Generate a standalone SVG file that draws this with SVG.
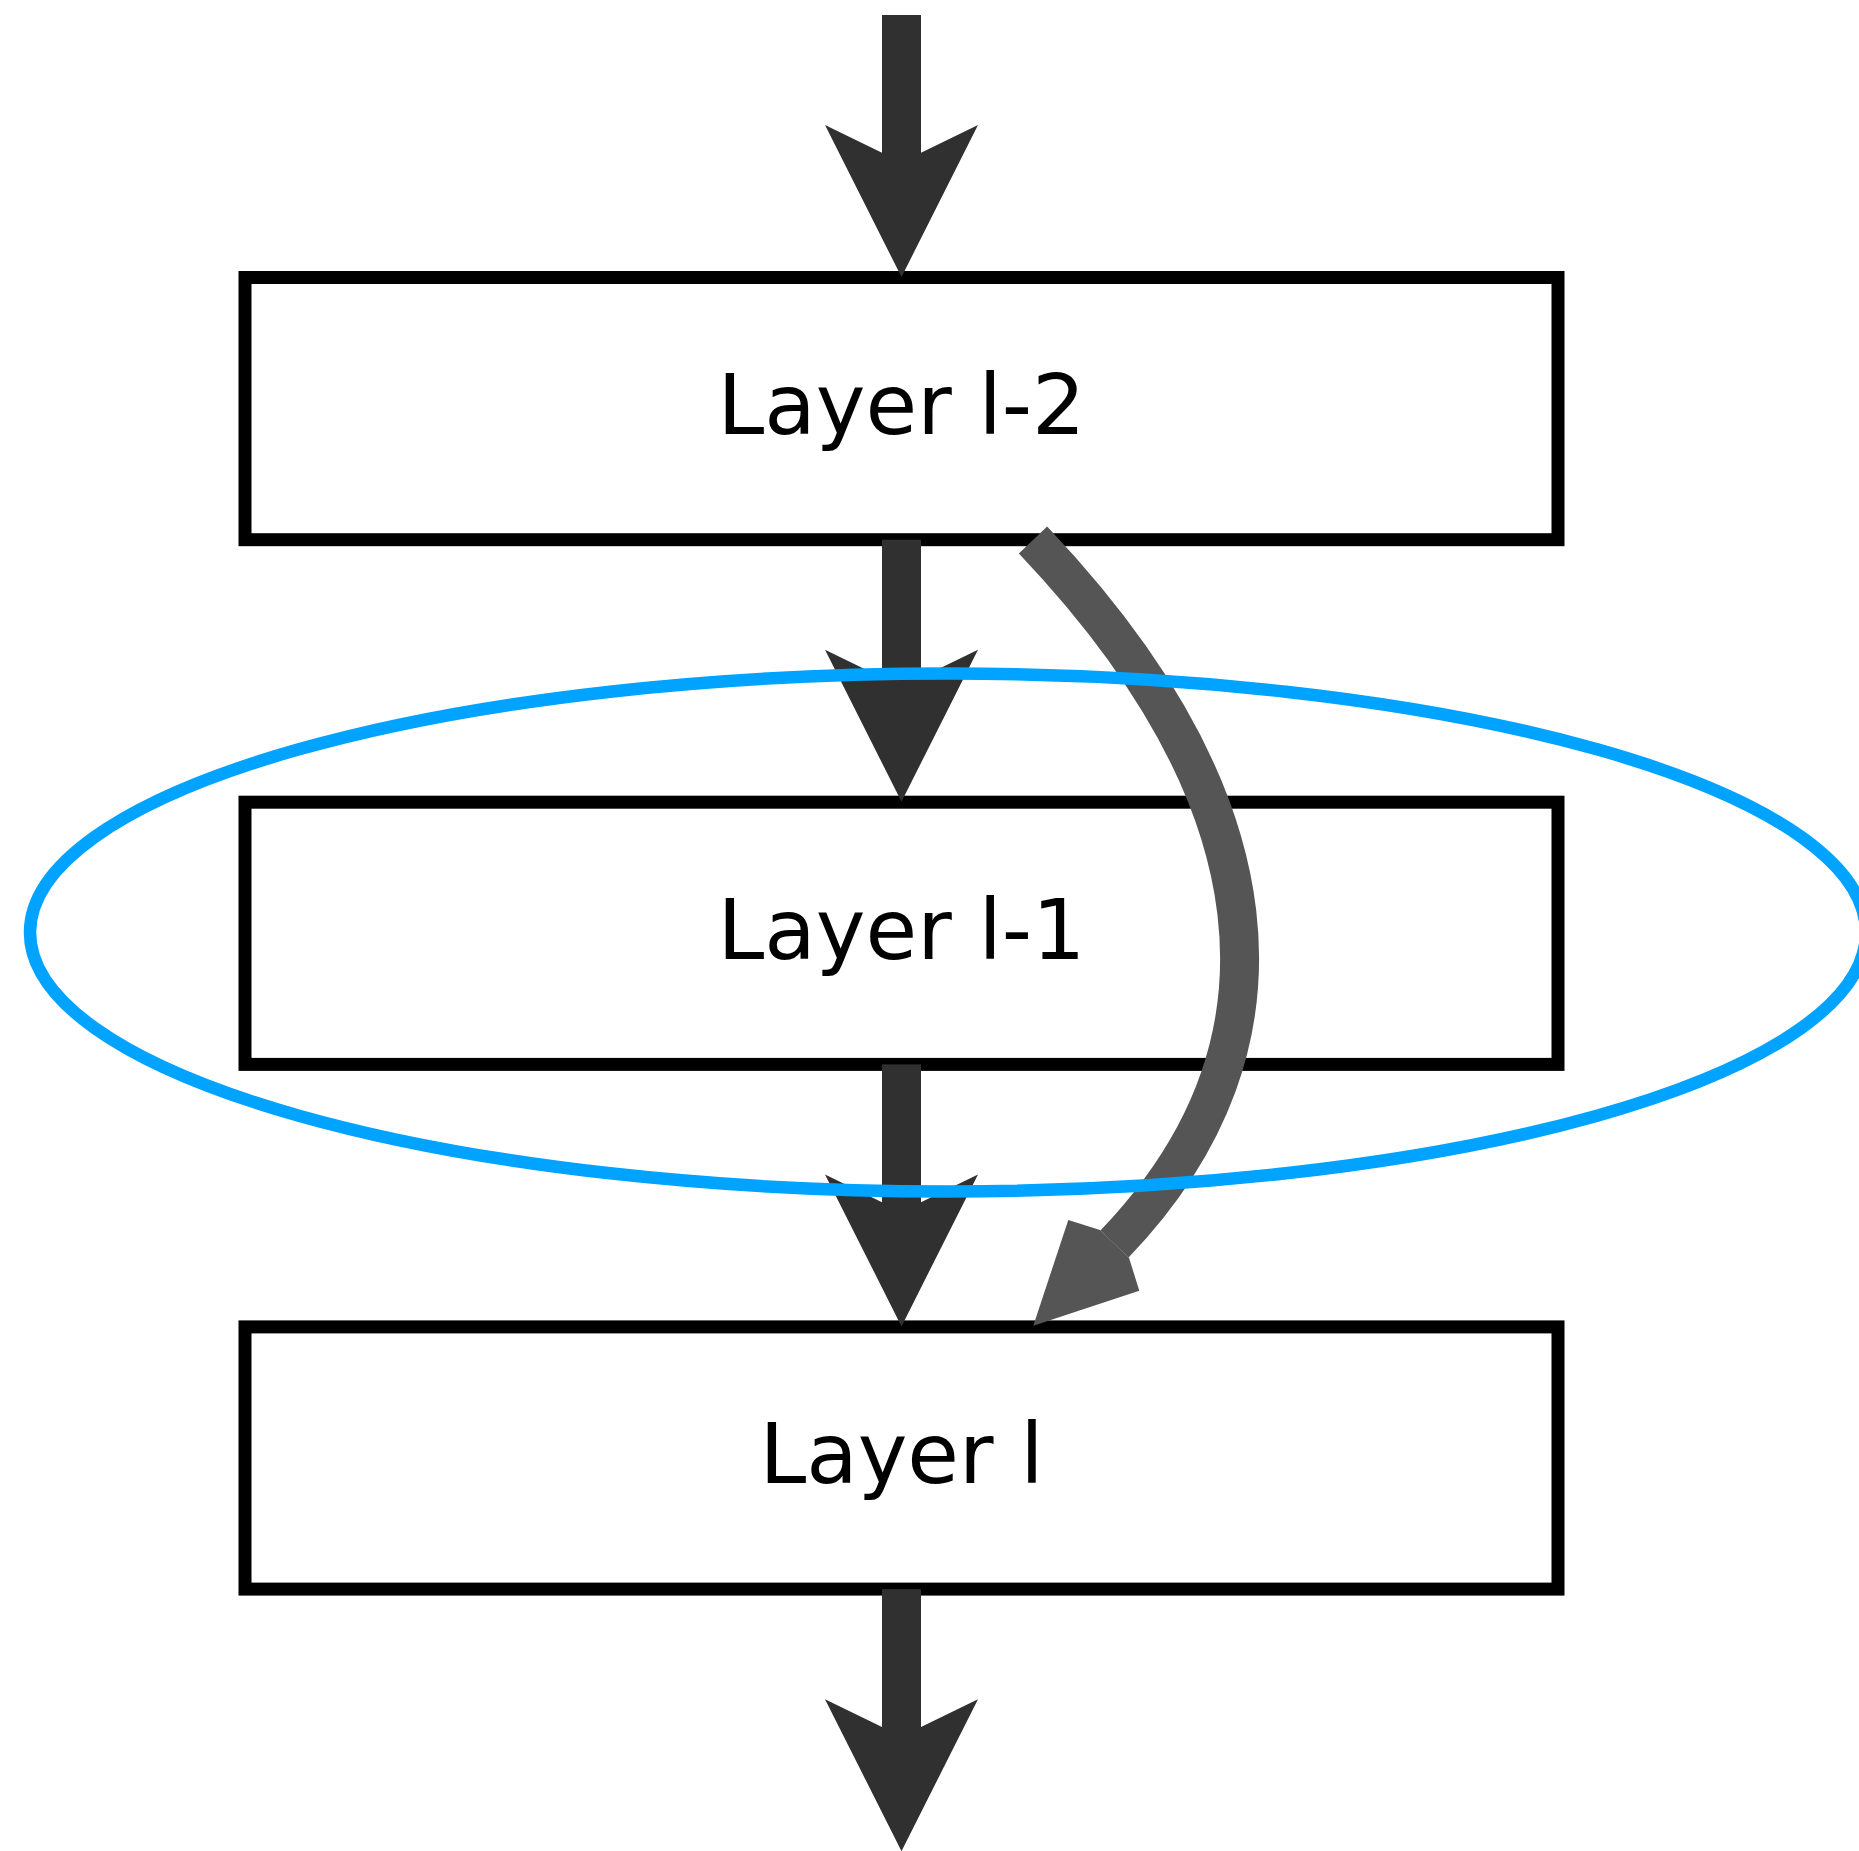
<svg xmlns="http://www.w3.org/2000/svg" xmlns:xlink="http://www.w3.org/1999/xlink" width="1859" height="1851" viewBox="0 0 1859 1851">
<style>
.box{fill:#ffffff;stroke:#000000;stroke-width:13}
.lbl{font-family:"DejaVu Sans",sans-serif;font-size:84px;fill:#000000;text-anchor:middle}
.arr{fill:#303030}
.curve{fill:none;stroke:#555555;stroke-width:39}
.curvehead{fill:#555555}
.loop{fill:none;stroke:#00A3FF;stroke-width:12.5}
</style>
<defs>
<g id="down-arrow" class="arr">
<rect x="882" y="0" width="39" height="148"/>
<polygon points="901.5,262 825,110 901.5,147.3 978,110"/>
</g>
</defs>
<rect width="1859" height="1851" fill="#ffffff"/>
<g id="node-layer-l-2">
<rect class="box" x="245" y="277.5" width="1313" height="262.2"/>
<text class="lbl" x="901.5" y="434">Layer l-2</text>
</g>
<g id="node-layer-l-1">
<rect class="box" x="245" y="802.2" width="1313" height="262.2"/>
<text class="lbl" x="901.5" y="958.7">Layer l-1</text>
</g>
<g id="node-layer-l">
<rect class="box" x="245" y="1326.9" width="1313" height="262.2"/>
<text class="lbl" x="901.5" y="1483.4">Layer l</text>
</g>
<g id="connectors">
<use xlink:href="#down-arrow" transform="translate(0,15)"/>
<use xlink:href="#down-arrow" transform="translate(0,539.7)"/>
<use xlink:href="#down-arrow" transform="translate(0,1064.4)"/>
<use xlink:href="#down-arrow" transform="translate(0,1589.2)"/>
<path class="curve" d="M1033,540 C1274.5,794.5 1307.7,1042.4 1114.5,1244"/>
<polygon class="curvehead" points="1033.3,1325.7 1068.3,1220 1100,1230 1129,1257.7 1139.3,1290.7"/>
</g>
<g id="group-loop">
<ellipse class="loop" cx="948" cy="932.5" rx="918" ry="259"/>
</g>
</svg>
